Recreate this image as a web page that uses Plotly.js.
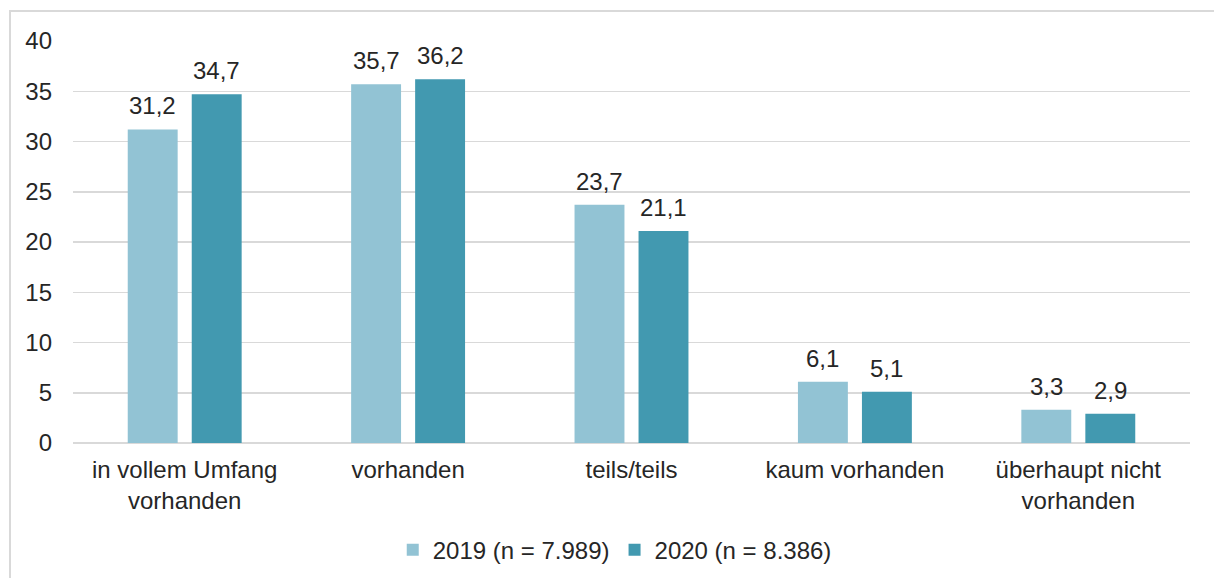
<!DOCTYPE html>
<html>
<head>
<meta charset="utf-8">
<script src="https://cdn.plot.ly/plotly-3.0.1.min.js"></script>
<style>
  body { margin: 0; background: #fff; }
  #frame { position: absolute; left: 9px; top: 10px; width: 1220px; height: 580px;
           border-left: 2px solid #d9d9d9; border-top: 2px solid #d9d9d9; }
  #chart { position: absolute; left: 0; top: 0; width: 1214px; height: 578px; }
</style>
</head>
<body>
<div id="frame"></div>
<div id="chart"></div>
<script>
// categories and values (percent)
var categories = ['in vollem Umfang<br>vorhanden', 'vorhanden', 'teils/teils', 'kaum vorhanden', 'überhaupt nicht<br>vorhanden'];
var values2019 = [31.2, 35.7, 23.7, 6.1, 3.3];
var values2020 = [34.7, 36.2, 21.1, 5.1, 2.9];

var FS = 24;

var trace1 = {
  x: categories,
  y: values2019,
  name: '2019 (n = 7.989)',
  type: 'bar',
  marker: {color: '#92c3d4'},
  hoverinfo: 'none'
};

var trace2 = {
  x: categories,
  y: values2020,
  name: '2020 (n = 8.386)',
  type: 'bar',
  marker: {color: '#4299b0'},
  hoverinfo: 'none'
};

// value labels above the bars
function fmt(v) { return v.toFixed(1).replace('.', ','); }
var labels = [];
categories.forEach(function (c, i) {
  labels.push({x: c, y: values2019[i], text: fmt(values2019[i]), xshift: -32});
  labels.push({x: c, y: values2020[i], text: fmt(values2020[i]), xshift: 32});
});
labels = labels.map(function (a) {
  return Object.assign(a, {showarrow: false, yanchor: 'bottom', yshift: 8,
                           font: {size: FS, color: '#262626'}});
});

var layout = {
  width: 1214,
  height: 578,
  margin: {l: 73, r: 24, t: 41, b: 135},
  paper_bgcolor: 'rgba(0,0,0,0)',
  plot_bgcolor: 'rgba(0,0,0,0)',
  separators: ', ',
  font: {family: 'Liberation Sans, Arial, sans-serif', size: FS, color: '#262626'},
  barmode: 'group',
  bargap: 0.427,
  bargroupgap: 0.22,
  showlegend: true,
  legend: {orientation: 'h', x: 0.485, xanchor: 'center', yref: 'container', y: 0.048, yanchor: 'middle',
           font: {size: FS}, itemwidth: 30, tracegroupgap: 0},
  annotations: labels,
  xaxis: {
    tickfont: {size: FS},
    ticks: '',
    ticklabelstandoff: 10,
    showline: false,
    showgrid: false
  },
  yaxis: {
    range: [0, 40],
    dtick: 5,
    tickfont: {size: FS},
    gridcolor: '#d9d9d9',
    gridwidth: 1.5,
    zeroline: true,
    zerolinecolor: '#d9d9d9',
    zerolinewidth: 2,
    ticklabelstandoff: 20,
    fixedrange: true
  }
};

Plotly.newPlot('chart', [trace1, trace2], layout, {displayModeBar: false, staticPlot: true});
</script>
</body>
</html>
